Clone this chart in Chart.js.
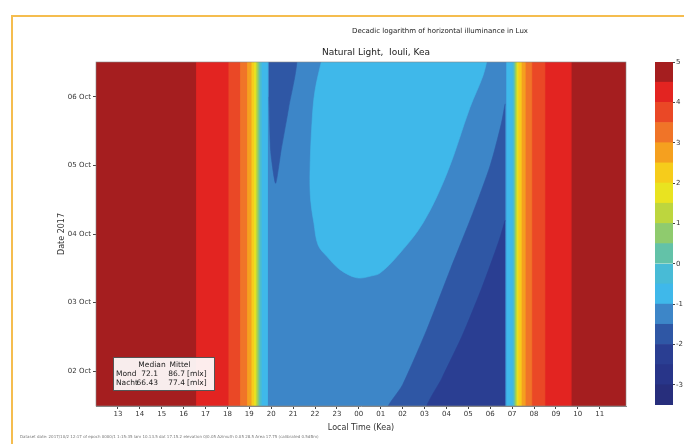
<!DOCTYPE html>
<html>
<head>
<meta charset="utf-8">
<script src="https://cdn.jsdelivr.net/npm/chart.js@4.4.0/dist/chart.umd.min.js"></script>
<style>
  html, body { margin: 0; padding: 0; background: #fff; }
  #wrap { position: relative; width: 684px; height: 444px; overflow: hidden; background: #fff; }
  #frame { position: absolute; left: 11px; top: 15px; width: 700px; height: 460px;
           border-left: 2px solid #f5bd4f; border-top: 2px solid #f5bd4f; }
  #main { position: absolute; left: 0; top: 0; width: 684px; height: 444px; }
  #bar { position: absolute; left: 655px; top: 0; width: 29px; height: 444px; }
</style>
</head>
<body>
<div id="wrap">
  <div id="frame"></div>
  <canvas id="main" width="684" height="444"></canvas>
  <canvas id="bar" width="29" height="444"></canvas>
</div>
<script>
// Axis ranges (hours after midnight of the first day, day of October)
const X_MIN = 12, X_MAX = 36.2;
const Y_MIN = 1.49, Y_MAX = 6.51;

// Tick positions and labels
const hourTicks = [13, 14, 15, 16, 17, 18, 19, 20, 21, 22, 23, 24, 25, 26, 27, 28, 29, 30, 31, 32, 33, 34, 35];
const hourLabels = ['13', '14', '15', '16', '17', '18', '19', '20', '21', '22', '23', '00',
                    '01', '02', '03', '04', '05', '06', '07', '08', '09', '10', '11'];
const dateTicks = [2, 3, 4, 5, 6];
const dateLabels = ['02 Oct', '03 Oct', '04 Oct', '05 Oct', '06 Oct'];
const barTicks = [-3, -2, -1, 0, 1, 2, 3, 4, 5];

// Contour levels: lower bound of each 0.5 step of log10(lux), and its colour
const levelLows = [-3.5, -3, -2.5, -2, -1.5, -1, -0.5, 0, 0.5, 1, 1.5, 2, 2.5, 3, 3.5, 4, 4.5];
const levelColors = ['#272e7c', '#283589', '#2a3e92', '#2f57a5', '#3d86c8', '#3fb8ea', '#48bbd6',
                     '#63c2a8', '#8fcb6e', '#bdd63e', '#e9e320', '#f6cc1b', '#f5a01f', '#f07428',
                     '#ea4826', '#e32421', '#a51e1f'];

// Twilight bands: evening and morning edge of each level, outer to inner
const duskEdges = [16.57, 18.05, 18.58, 18.9, 19.1, 19.22, 19.3, 19.37, 19.43, 19.5, 19.58, 19.85];
const dawnEdges = [33.7, 32.5, 31.9, 31.6, 31.42, 31.27, 31.21, 31.16, 31.11, 31.06, 31.0, 30.72];
const bandLevels = [15, 14, 13, 12, 11, 10, 9, 8, 7, 6, 5, 4];

// Night contours (time, date)
const wedgeTimes = [19.9, 21.15, 20.8, 20.45, 20.2, 19.98, 19.9];
const wedgeDates = [6.6, 6.6, 5.85, 5.22, 4.74, 5.2, 6.0];
const blobTimes = [22.35, 22.0, 21.86, 21.77, 21.8, 21.95, 22.14, 22.55, 23.14, 23.92, 24.6,
                   24.97, 25.74, 26.93, 28.03, 29.08, 29.67, 29.9];
const blobDates = [6.6, 6.09, 5.61, 4.89, 4.5, 4.16, 3.84, 3.67, 3.48, 3.36, 3.39,
                   3.43, 3.67, 4.16, 4.89, 5.85, 6.31, 6.6];
const dawnDarkTimes = [30.68, 30.5, 30.0, 29.2, 28.2, 27.1, 26.0, 25.3, 30.68];
const dawnDarkDates = [5.9, 5.6, 5.0, 4.3, 3.5, 2.6, 1.8, 1.4, 1.4];
const navyTimes = [30.68, 30.4, 29.6, 28.7, 27.8, 27.1, 30.68];
const navyDates = [4.2, 3.9, 3.2, 2.5, 1.9, 1.4, 1.4];

const titleText = 'Decadic logarithm of horizontal illuminance in Lux';
const subtitleText = 'Natural Light,  Iouli, Kea';
const statsRows = [['', 'Median', 'Mittel', ''], ['Mond', '72.1', '86.7', '[mlx]'], ['Nacht', '66.43', '77.4', '[mlx]']];
const footerText = 'Dataset date: 2017/10/2 12:17 of epoch 0000/1 1:15:35 lam 10.13.5 dat 17.15.2 ' +
                   'elevation 0/0.05 Azimuth 0.05 28.5 Area 17.75 (calibrated 0.5dBm)';

const FONT = 'DejaVu Sans';

// -----------------------------
// BUILD FILLED AREAS
// -----------------------------
function pts(times, dates) {
  return times.map((t, i) => ({ x: t, y: dates[i] }));
}

function rect(t0, t1) {
  return pts([t0, t1, t1, t0], [Y_MIN - 0.2, Y_MIN - 0.2, Y_MAX + 0.2, Y_MAX + 0.2]);
}

function area(data, level, tension) {
  return {
    data: data,
    showLine: true,
    fill: 'shape',
    backgroundColor: levelColors[level],
    borderColor: levelColors[level],
    borderWidth: 0.6,
    pointRadius: 0,
    tension: tension || 0
  };
}

// bottom layer first
const layers = [area(rect(X_MIN - 1, X_MAX + 1), 16)];
duskEdges.forEach((t, i) => layers.push(area(rect(t, dawnEdges[i]), bandLevels[i])));
layers.push(area(pts(wedgeTimes, wedgeDates), 3, 0.2));
layers.push(area(pts(blobTimes, blobDates), 5, 0.35));
layers.push(area(pts(dawnDarkTimes, dawnDarkDates), 3, 0.25));
layers.push(area(pts(navyTimes, navyDates), 2, 0.25));

// Chart.js draws low "order" on top
const datasets = layers.map((d, i) => Object.assign(d, { order: layers.length - i }));

// -----------------------------
// TEXT OUTSIDE THE AXES
// -----------------------------
const figureText = {
  id: 'figureText',
  afterDraw(chart) {
    const ctx = chart.ctx;
    const area = chart.chartArea;
    ctx.save();
    ctx.fillStyle = '#222';
    ctx.textBaseline = 'middle';
    ctx.textAlign = 'center';
    ctx.font = '7px "' + FONT + '"';
    ctx.fillText(titleText, 440, 31);
    ctx.font = '9px "' + FONT + '"';
    ctx.fillText(subtitleText, 376, 53);

    // frame around plot
    ctx.strokeStyle = '#888';
    ctx.lineWidth = 0.6;
    ctx.strokeRect(area.left, area.top, area.right - area.left, area.bottom - area.top);

    // median box
    const bx = area.left + 17, by = area.bottom - 49;
    ctx.fillStyle = 'rgba(255,255,255,0.92)';
    ctx.fillRect(bx, by, 102, 34);
    ctx.strokeStyle = '#555';
    ctx.lineWidth = 1;
    ctx.strokeRect(bx + 0.5, by + 0.5, 101, 33);
    ctx.fillStyle = '#222';
    ctx.font = '7.5px "' + FONT + '"';
    const colX = [bx + 3, bx + 45, bx + 72, bx + 74];
    const align = ['left', 'right', 'right', 'left'];
    statsRows.forEach((row, r) => {
      row.forEach((txt, c) => {
        ctx.textAlign = r === 0 ? 'center' : align[c];
        const x = r === 0 ? [0, bx + 39, bx + 67, 0][c] : colX[c];
        if (txt) ctx.fillText(txt, x, by + 8 + r * 9);
      });
    });

    // footer line
    ctx.textAlign = 'left';
    ctx.fillStyle = '#777';
    ctx.font = '4px "' + FONT + '"';
    ctx.fillText(footerText, 20, 437);
    ctx.restore();
  }
};

// -----------------------------
// MAIN CONTOUR CHART
// -----------------------------
new Chart(document.getElementById('main'), {
  type: 'scatter',
  data: { datasets: datasets },
  options: {
    responsive: false,
    animation: false,
    events: [],
    layout: { padding: { left: 57, right: 58, top: 62, bottom: 11 } },
    plugins: { legend: { display: false }, tooltip: { enabled: false } },
    scales: {
      x: {
        type: 'linear',
        min: X_MIN,
        max: X_MAX,
        afterBuildTicks: s => { s.ticks = hourTicks.map(v => ({ value: v })); },
        afterFit: s => { s.height = 27; },
        ticks: {
          autoSkip: false, maxRotation: 0, padding: 1, color: '#333',
          font: { family: FONT, size: 7 },
          callback: (v, i) => hourLabels[i]
        },
        grid: { display: true, drawOnChartArea: false, tickLength: 3, color: '#444' },
        border: { display: true, color: '#888' },
        title: { display: true, text: 'Local Time (Kea)', color: '#333', padding: 0,
                 font: { family: FONT, size: 8 } }
      },
      y: {
        type: 'linear',
        min: Y_MIN,
        max: Y_MAX,
        afterBuildTicks: s => { s.ticks = dateTicks.map(v => ({ value: v })); },
        afterFit: s => { s.width = 39; },
        ticks: {
          padding: 2, color: '#333',
          font: { family: FONT, size: 7 },
          callback: (v, i) => dateLabels[i]
        },
        grid: { display: true, drawOnChartArea: false, tickLength: 3, color: '#444' },
        border: { display: true, color: '#888' },
        title: { display: true, text: 'Date 2017', color: '#333', padding: 0,
                 font: { family: FONT, size: 8 } }
      }
    }
  },
  plugins: [figureText]
});

// -----------------------------
// COLOUR BAR
// -----------------------------
new Chart(document.getElementById('bar'), {
  type: 'bar',
  data: {
    labels: [''],
    datasets: levelLows.map((lo, i) => ({
      data: [[lo, lo + 0.5]],
      backgroundColor: levelColors[i],
      borderWidth: 0,
      grouped: false,
      barPercentage: 1,
      categoryPercentage: 1
    }))
  },
  options: {
    responsive: false,
    animation: false,
    events: [],
    layout: { padding: { top: 62, bottom: 39 } },
    plugins: { legend: { display: false }, tooltip: { enabled: false } },
    scales: {
      x: { display: false },
      y: {
        position: 'right',
        min: -3.5,
        max: 5,
        afterBuildTicks: s => { s.ticks = barTicks.map(v => ({ value: v })); },
        afterFit: s => { s.width = 11; },
        ticks: { padding: 1, color: '#333', font: { family: FONT, size: 7 } },
        grid: { display: true, drawOnChartArea: false, tickLength: 2, color: '#444' },
        border: { display: false }
      }
    }
  }
});
</script>
</body>
</html>
